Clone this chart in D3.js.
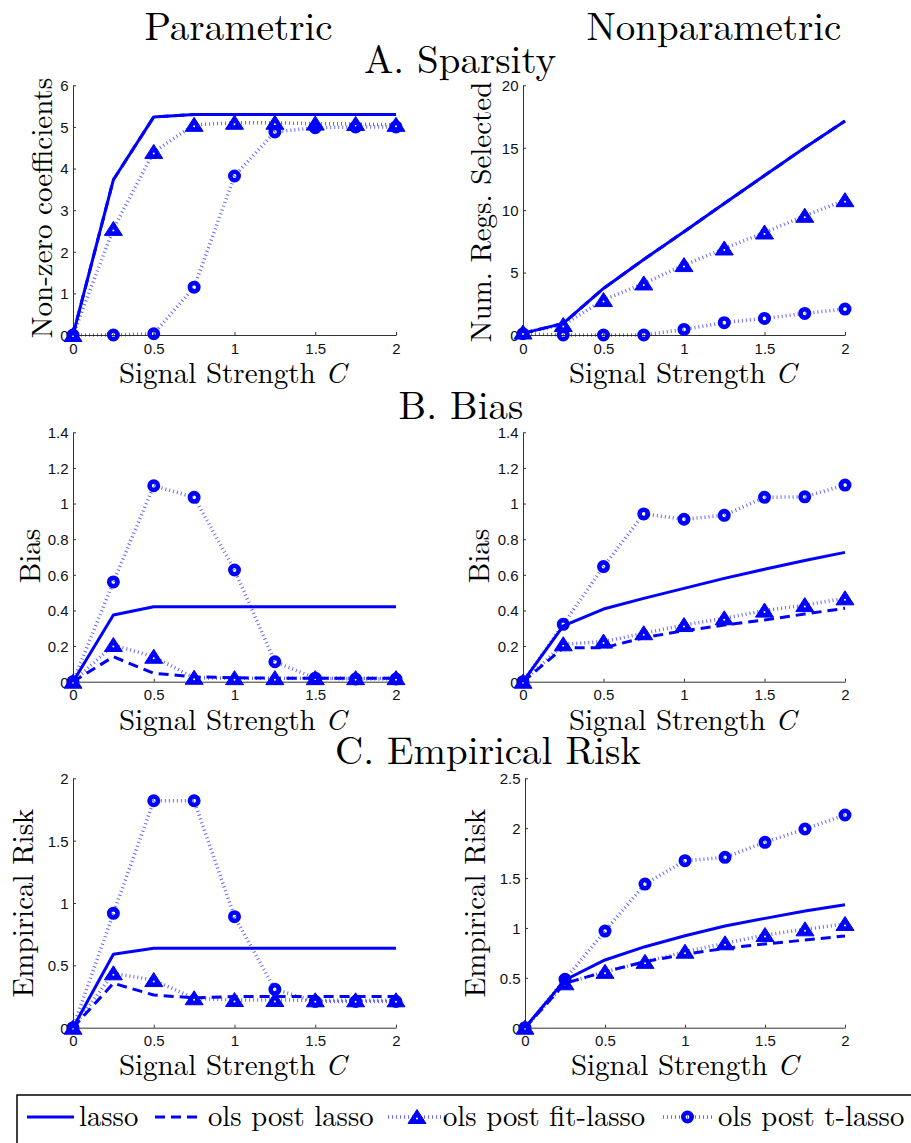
<!DOCTYPE html>
<html>
<head>
<meta charset="utf-8">
<script src="https://d3js.org/d3.v7.min.js"></script>
<style>
  body { margin: 0; background: #fff; }
</style>
</head>
<body>
<svg id="svg" width="911" height="1143"></svg>
<script>
// signal strength C on the x axis
var strength = [0, 0.25, 0.5, 0.75, 1, 1.25, 1.5, 1.75, 2];
var xTicks = [0, 0.5, 1, 1.5, 2];

// A. Sparsity, parametric
var sparParLasso = [0, 3.73, 5.24, 5.3, 5.3, 5.3, 5.3, 5.3, 5.3];
var sparParPost  = [0, 3.73, 5.24, 5.3, 5.3, 5.3, 5.3, 5.3, 5.3];
var sparParFit   = [0, 2.55, 4.4, 5.05, 5.1, 5.1, 5.08, 5.07, 5.05];
var sparParT     = [0, 0, 0.03, 1.15, 3.82, 4.88, 4.98, 5.0, 5.0];
// A. Sparsity, nonparametric
var sparNonLasso = [0.13, 0.93, 3.73, 6.05, 8.27, 10.53, 12.77, 15.0, 17.15];
var sparNonPost  = [0.13, 0.93, 3.73, 6.05, 8.27, 10.53, 12.77, 15.0, 17.15];
var sparNonFit   = [0.2, 0.8, 2.8, 4.13, 5.6, 6.93, 8.21, 9.55, 10.8];
var sparNonT     = [0.1, 0, 0, 0, 0.45, 0.99, 1.33, 1.73, 2.08];

// B. Bias, parametric
var biasParLasso = [0, 0.374, 0.421, 0.421, 0.421, 0.421, 0.421, 0.421, 0.421];
var biasParPost  = [0, 0.14, 0.047, 0.028, 0.022, 0.02, 0.02, 0.02, 0.02];
var biasParFit   = [0, 0.206, 0.14, 0.022, 0.02, 0.02, 0.02, 0.02, 0.02];
var biasParT     = [0, 0.56, 1.10, 1.035, 0.627, 0.112, 0.02, 0.015, 0.015];
// B. Bias, nonparametric
var biasNonLasso = [0, 0.313, 0.408, 0.468, 0.524, 0.58, 0.631, 0.68, 0.726];
var biasNonPost  = [0, 0.19, 0.19, 0.247, 0.286, 0.318, 0.346, 0.38, 0.412];
var biasNonFit   = [0, 0.21, 0.225, 0.272, 0.318, 0.356, 0.399, 0.43, 0.468];
var biasNonT     = [0, 0.322, 0.646, 0.942, 0.912, 0.934, 1.035, 1.038, 1.104];

// C. Empirical Risk, parametric
var riskParLasso = [0, 0.589, 0.637, 0.637, 0.637, 0.637, 0.637, 0.637, 0.637];
var riskParPost  = [0, 0.356, 0.262, 0.24, 0.25, 0.25, 0.25, 0.25, 0.25];
var riskParFit   = [0, 0.436, 0.382, 0.236, 0.222, 0.222, 0.22, 0.22, 0.22];
var riskParT     = [0, 0.917, 1.82, 1.82, 0.89, 0.308, 0.21, 0.21, 0.21];
// C. Empirical Risk, nonparametric
var riskNonLasso = [0, 0.478, 0.679, 0.812, 0.922, 1.019, 1.096, 1.17, 1.233];
var riskNonPost  = [0, 0.445, 0.561, 0.662, 0.736, 0.796, 0.839, 0.879, 0.919];
var riskNonFit   = [0, 0.445, 0.56, 0.66, 0.762, 0.846, 0.929, 0.986, 1.04];
var riskNonT     = [0, 0.485, 0.969, 1.44, 1.674, 1.708, 1.858, 1.992, 2.132];

var seriesNames = ["lasso", "ols post lasso", "ols post fit-lasso", "ols post t-lasso"];

var svg = d3.select("svg");
var blue = "#0000ff";
var serif = "'Latin Modern Roman', 'Liberation Serif', serif";
var sans = "'Liberation Sans', Arial, sans-serif";

var styles = [
  {width: 3, dash: null, opacity: 1, marker: null},
  {width: 3, dash: "10,6", opacity: 1, marker: null},
  {width: 3.5, dash: "1,3", opacity: 0.6, marker: "tri"},
  {width: 3.5, dash: "1,3", opacity: 0.6, marker: "circ"}
];

var panels = [
  {left: 73, right: 396, top: 85.3, bottom: 335, yMax: 6, yTicks: [0,1,2,3,4,5,6],
   ylab: "Non-zero coefficients", ylx: 52, ylc: 208, xlb: 383, xlc: 232.5,
   data: [sparParLasso, sparParPost, sparParFit, sparParT]},
  {left: 523, right: 845, top: 85.3, bottom: 335, yMax: 20, yTicks: [0,5,10,15,20],
   ylab: "Num. Regs. Selected", ylx: 491, ylc: 212, xlb: 383, xlc: 682.5,
   data: [sparNonLasso, sparNonPost, sparNonFit, sparNonT]},
  {left: 73, right: 396, top: 432.3, bottom: 681.7, yMax: 1.4, yTicks: [0,0.2,0.4,0.6,0.8,1,1.2,1.4],
   ylab: "Bias", ylx: 39.5, ylc: 556, xlb: 730, xlc: 232.5,
   data: [biasParLasso, biasParPost, biasParFit, biasParT]},
  {left: 523, right: 845, top: 432.3, bottom: 681.7, yMax: 1.4, yTicks: [0,0.2,0.4,0.6,0.8,1,1.2,1.4],
   ylab: "Bias", ylx: 489, ylc: 556, xlb: 730, xlc: 682.5,
   data: [biasNonLasso, biasNonPost, biasNonFit, biasNonT]},
  {left: 73, right: 396, top: 778.3, bottom: 1027.7, yMax: 2, yTicks: [0,0.5,1,1.5,2],
   ylab: "Empirical Risk", ylx: 33, ylc: 903, xlb: 1075, xlc: 232.5,
   data: [riskParLasso, riskParPost, riskParFit, riskParT]},
  {left: 525, right: 845, top: 778.3, bottom: 1027.7, yMax: 2.5, yTicks: [0,0.5,1,1.5,2,2.5],
   ylab: "Empirical Risk", ylx: 485, ylc: 903, xlb: 1075, xlc: 684.5,
   data: [riskNonLasso, riskNonPost, riskNonFit, riskNonT]}
];

function serifText(parent, size) {
  return parent.append("text").attr("font-family", serif).attr("font-size", size).attr("fill", "#000");
}

function drawMarker(g, type, x, y) {
  if (type === "tri") {
    g.append("path").attr("d", "M" + x + "," + (y - 7.5) + "L" + (x + 9) + "," + (y + 6.5) + "L" + (x - 9) + "," + (y + 6.5) + "Z")
      .attr("fill", blue).attr("stroke", blue).attr("stroke-width", 1);
    g.append("circle").attr("cx", x).attr("cy", y + 1.5).attr("r", 1).attr("fill", "#fff");
  } else if (type === "circ") {
    g.append("circle").attr("cx", x).attr("cy", y).attr("r", 4.2)
      .attr("fill", "none").attr("stroke", blue).attr("stroke-width", 4.6);
  }
}

panels.forEach(function(p) {
  var x = d3.scaleLinear().domain([0, 2]).range([p.left, p.right]);
  var y = d3.scaleLinear().domain([0, p.yMax]).range([p.bottom, p.top]);
  var g = svg.append("g");

  // axes with short inward ticks
  var xa = g.append("g").attr("transform", "translate(0," + p.bottom + ")")
    .call(d3.axisBottom(x).tickValues(xTicks).tickSizeInner(-3).tickSizeOuter(0).tickPadding(8)
      .tickFormat(d3.format("")));
  var ya = g.append("g").attr("transform", "translate(" + p.left + ",0)")
    .call(d3.axisLeft(y).tickValues(p.yTicks).tickSizeInner(-3).tickSizeOuter(0).tickPadding(4.5)
      .tickFormat(d3.format("")));
  [xa, ya].forEach(function(a) {
    a.attr("font-family", sans).attr("font-size", 15);
    a.select(".domain").attr("stroke", "#333").attr("stroke-width", 1);
    a.selectAll(".tick line").attr("stroke", "#333");
    a.selectAll(".tick text").attr("fill", "#111");
  });
  xa.selectAll(".tick text").attr("dy", "0.71em");
  ya.selectAll(".tick text").attr("dy", "0.36em");

  // axis labels
  var xl = serifText(g, 29).attr("x", p.xlc).attr("y", p.xlb).attr("text-anchor", "middle");
  xl.append("tspan").text("Signal Strength ");
  xl.append("tspan").attr("font-style", "italic").text("C");

  serifText(g, 29).attr("transform", "translate(" + p.ylx + "," + p.ylc + ") rotate(-90)")
    .attr("text-anchor", "middle").text(p.ylab);

  // series lines, then markers on top
  p.data.forEach(function(vals, i) {
    var s = styles[i];
    var line = d3.line().x(function(d, j) { return x(strength[j]); }).y(function(d) { return y(d); });
    g.append("path").datum(vals).attr("d", line)
      .attr("fill", "none").attr("stroke", blue).attr("stroke-width", s.width)
      .attr("stroke-dasharray", s.dash).attr("stroke-opacity", s.opacity)
      .attr("stroke-linejoin", "round");
  });
  p.data.forEach(function(vals, i) {
    var s = styles[i];
    if (!s.marker) return;
    vals.forEach(function(v, j) { drawMarker(g, s.marker, x(strength[j]), y(v)); });
  });
});

// column and section titles
serifText(svg, 39).attr("x", 238.5).attr("y", 40).attr("text-anchor", "middle").text("Parametric");
serifText(svg, 39).attr("x", 714).attr("y", 40).attr("text-anchor", "middle").text("Nonparametric");
serifText(svg, 39).attr("x", 460).attr("y", 73).attr("text-anchor", "middle").text("A. Sparsity");
serifText(svg, 39).attr("x", 461).attr("y", 419).attr("text-anchor", "middle").text("B. Bias");
serifText(svg, 39).attr("x", 488).attr("y", 764).attr("text-anchor", "middle").text("C. Empirical Risk");

// legend
var leg = svg.append("g");
leg.append("rect").attr("x", 17).attr("y", 1095).attr("width", 900).attr("height", 70)
  .attr("fill", "none").attr("stroke", "#000").attr("stroke-width", 1.5);
var legItems = [
  {x0: 27, x1: 74, tx: 79},
  {x0: 155, x1: 203, tx: 208},
  {x0: 388, x1: 446, tx: 443},
  {x0: 663, x1: 712, tx: 718}
];
legItems.forEach(function(it, i) {
  var s = styles[i];
  var ly = 1117;
  leg.append("line").attr("x1", it.x0).attr("x2", it.x1).attr("y1", ly).attr("y2", ly)
    .attr("stroke", blue).attr("stroke-width", s.width).attr("stroke-dasharray", s.dash)
    .attr("stroke-opacity", s.opacity);
  if (s.marker) drawMarker(leg, s.marker, (it.x0 + it.x1) / 2, ly);
  serifText(leg, 28.7).attr("x", it.tx).attr("y", 1126).text(seriesNames[i]);
});
</script>
</body>
</html>
